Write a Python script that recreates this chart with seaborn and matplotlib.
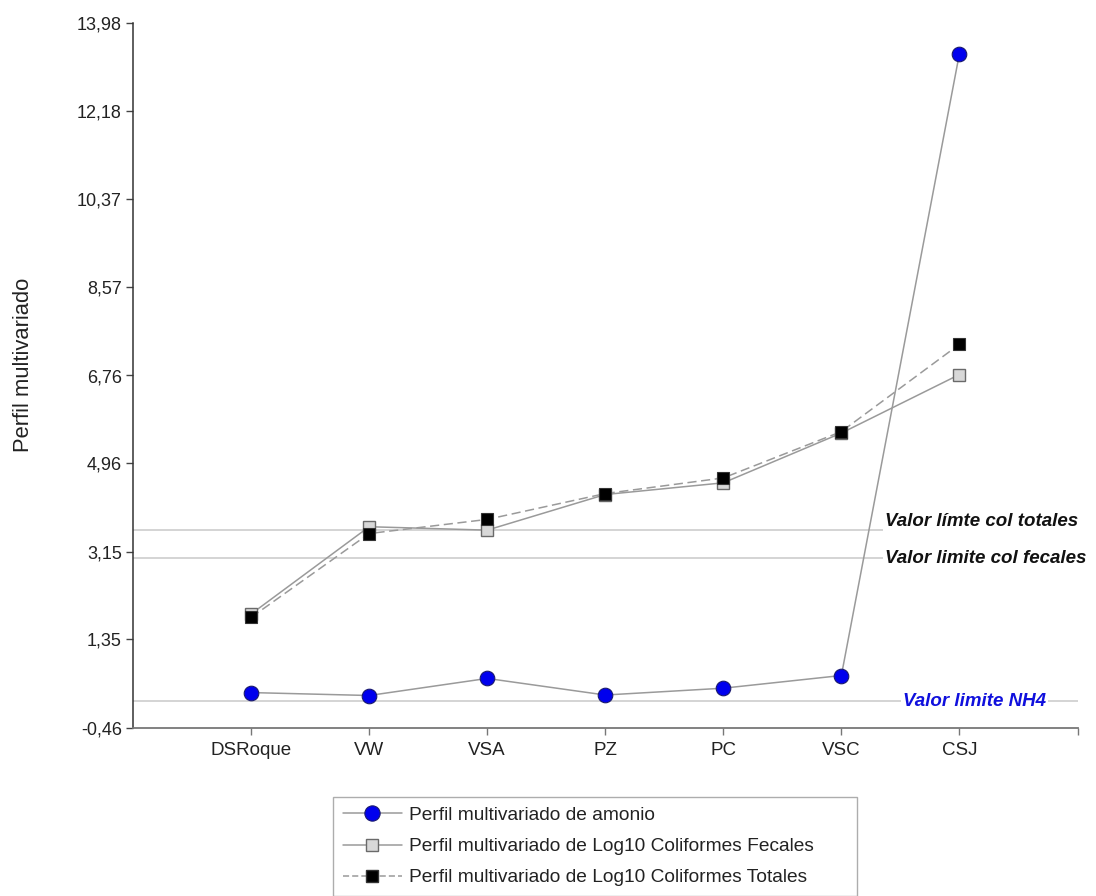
import matplotlib
matplotlib.use("Agg")
import matplotlib.pyplot as plt
import seaborn as sns
from matplotlib.lines import Line2D

# Sampling sites along the river
sites = ["DSRoque", "VW", "VSA", "PZ", "PC", "VSC", "CSJ"]

# Multivariate profiles per site
amonio = [0.26, 0.20, 0.55, 0.21, 0.35, 0.61, 13.36]
col_fecales = [1.87, 3.66, 3.59, 4.32, 4.56, 5.58, 6.78]
col_totales = [1.80, 3.52, 3.81, 4.34, 4.66, 5.61, 7.40]

# Reference limits
lim_totales = 3.59
lim_fecales = 3.01
lim_nh4 = 0.095

# Y axis ticks
y_ticks = [-0.46, 1.35, 3.15, 4.96, 6.76, 8.57, 10.37, 12.18, 13.98]
y_tick_labels = ["-0,46", "1,35", "3,15", "4,96", "6,76", "8,57", "10,37", "12,18", "13,98"]

sns.set_theme(style="white")
plt.rcParams["font.family"] = ["Liberation Sans", "DejaVu Sans"]

fig = plt.figure(figsize=(10.96, 8.96), dpi=100)
ax = fig.add_axes([133 / 1096, 1 - 727.7 / 896, (1077.5 - 133) / 1096, (727.7 - 23.3) / 896])

line_col = "#9a9a9a"
limit_col = "#cdcdcd"

# Limit lines
for v in (lim_totales, lim_fecales, lim_nh4):
    ax.axhline(v, color=limit_col, lw=1.2, zorder=1)

sns.lineplot(x=sites, y=amonio, ax=ax, color=line_col, lw=1.1, marker="o",
             markersize=10.5, markerfacecolor="#0000ee", markeredgecolor="#1a1a6e",
             markeredgewidth=0.8, zorder=4, legend=False)
sns.lineplot(x=sites, y=col_fecales, ax=ax, color=line_col, lw=1.1, marker="s",
             markersize=8, markerfacecolor="#d8d8d8", markeredgecolor="#6a6a6a",
             markeredgewidth=1.0, zorder=3, legend=False)
sns.lineplot(x=sites, y=col_totales, ax=ax, color=line_col, lw=1.1, marker="s",
             linestyle=(0, (6, 3)), markersize=8, markerfacecolor="black",
             markeredgecolor="#333333", markeredgewidth=0.8, zorder=3, legend=False)

ax.set_xlim(-1, 7)
ax.set_ylim(-0.46, 13.98)
ax.set_yticks(y_ticks)
ax.set_yticklabels(y_tick_labels)
ax.set_xticks(range(len(sites)))
ax.set_xticklabels(sites)
ax.tick_params(axis="both", length=5, width=1, bottom=True, left=True, direction="out")
ax.tick_params(axis="x", labelsize=13.5, colors="#777777", labelcolor="#222222", pad=5)
ax.tick_params(axis="y", labelsize=13, colors="#444444", labelcolor="#222222", pad=3)
ax.set_xlabel("")
ax.set_ylabel("Perfil multivariado", fontsize=15.8, color="#222222")
ax.yaxis.set_label_coords(-0.105, 0.515)

for s in ("top", "right"):
    ax.spines[s].set_visible(False)
ax.spines["left"].set_color("#333333")
ax.spines["left"].set_linewidth(1.1)
ax.spines["bottom"].set_color("#777777")
ax.spines["bottom"].set_linewidth(1.3)
# end tick at the right of the bottom axis
ax.set_xticks([7], minor=True)
ax.tick_params(axis="x", which="minor", length=5, width=1, colors="#777777", bottom=True)

# Limit labels
bbox = dict(facecolor="white", edgecolor="none", pad=1.5)
ax.text(5.37, lim_totales + 0.18, "Valor límte col totales", fontsize=13.5, fontweight="bold",
        fontstyle="italic", color="#111111", ha="left", va="center", bbox=bbox, zorder=5)
ax.text(5.37, lim_fecales, "Valor limite col fecales", fontsize=13.5, fontweight="bold",
        fontstyle="italic", color="#111111", ha="left", va="center", bbox=bbox, zorder=5)
ax.text(5.52, lim_nh4 - 0.02, "Valor limite NH4", fontsize=13.5, fontweight="bold",
        fontstyle="italic", color="#1010dd", ha="left", va="center", bbox=bbox, zorder=5)

# Legend
handles = [
    Line2D([], [], color=line_col, lw=1.1, marker="o", markersize=11,
           markerfacecolor="#0000ee", markeredgecolor="#1a1a6e", markeredgewidth=0.8),
    Line2D([], [], color=line_col, lw=1.1, marker="s", markersize=8,
           markerfacecolor="#d8d8d8", markeredgecolor="#6a6a6a"),
    Line2D([], [], color=line_col, lw=1.1, linestyle=(0, (4, 2)), marker="s", markersize=8,
           markerfacecolor="black", markeredgecolor="#333333"),
]
labels = [
    "Perfil multivariado de amonio",
    "Perfil multivariado de Log10 Coliformes Fecales",
    "Perfil multivariado de Log10 Coliformes Totales",
]
leg = fig.legend(handles, labels, loc="upper left",
                 bbox_to_anchor=(333 / 1096, 1 - 797 / 896, 524 / 1096, 0), mode="expand",
                 fontsize=13.8, frameon=True, fancybox=False, handlelength=3.1,
                 handletextpad=0.35, labelspacing=0.72, borderpad=0.5, borderaxespad=0)
leg.get_frame().set_edgecolor("#999999")
leg.get_frame().set_linewidth(1.0)
for t in leg.get_texts():
    t.set_color("#222222")

fig.savefig("out.png", dpi=100, facecolor="white")
